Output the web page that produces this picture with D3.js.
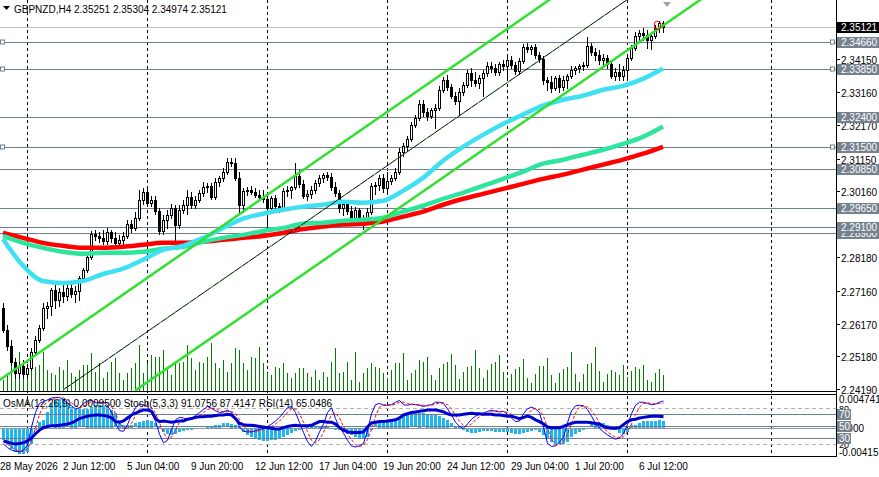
<!DOCTYPE html>
<html>
<head>
<meta charset="utf-8">
<script src="https://cdn.jsdelivr.net/npm/d3@7"></script>
<style>
    body { margin: 0; background: #fff; }
    svg { display: block; }
    text { font-family: "Liberation Sans", Arial, sans-serif; font-size: 10px; fill: #000; }
</style>
</head>
<body>
<svg id="chart" width="879" height="477"></svg>
<script>
// ---- data (bar 0 = 29 May 00:00) ----
let opens = [
    2.2665,2.2598,2.2550,2.2502,2.2469,2.2490,2.2466,2.2484,2.2532,2.2568,
    2.2604,2.2665,2.2671,2.2719,2.2689,2.2713,2.2701,2.2725,2.2707,2.2716,
    2.2755,2.2780,2.2819,2.2888,2.2882,2.2876,2.2867,2.2894,2.2876,2.2861,
    2.2870,2.2882,2.2919,2.2906,2.2937,2.2991,2.3015,2.2982,2.2991,2.2958,
    2.2897,2.2931,2.2946,2.2967,2.2916,2.2961,2.2976,2.3000,2.2976,2.2991,
    2.3012,2.3030,2.3033,2.3000,2.3045,2.3057,2.3076,2.3106,2.3103,2.3057,
    2.2976,2.3018,2.3021,2.3015,2.3006,2.3000,2.2994,2.2967,2.2997,2.2973,
    2.2964,2.3018,2.3021,2.3030,2.3064,2.3039,2.3003,2.3009,2.3021,2.3042,
    2.3057,2.3067,2.3060,2.3030,2.3012,2.2967,2.2979,2.2958,2.2931,2.2961,
    2.2928,2.2937,2.2955,2.3033,2.3036,2.3057,2.3027,2.3048,2.3057,2.3076,
    2.3136,2.3154,2.3175,2.3218,2.3239,2.3281,2.3257,2.3245,2.3263,2.3269,
    2.3323,2.3353,2.3332,2.3305,2.3290,2.3317,2.3338,2.3375,2.3353,2.3344,
    2.3359,2.3375,2.3396,2.3390,2.3378,2.3402,2.3396,2.3414,2.3399,2.3381,
    2.3411,2.3453,2.3447,2.3453,2.3429,2.3417,2.3353,2.3347,2.3329,2.3359,
    2.3332,2.3353,2.3366,2.3384,2.3390,2.3396,2.3399,2.3456,2.3438,2.3429,
    2.3414,2.3420,2.3402,2.3366,2.3378,2.3366,2.3384,2.3420,2.3450,2.3486,
    2.3495,2.3489,2.3474,2.3486,2.3510,2.35251
];
let highs = [
    2.2680,2.2614,2.2568,2.2514,2.2502,2.2508,2.2496,2.2544,2.2580,2.2614,
    2.2680,2.2683,2.2725,2.2734,2.2725,2.2734,2.2740,2.2737,2.2731,2.2762,
    2.2786,2.2825,2.2897,2.2900,2.2894,2.2900,2.2906,2.2900,2.2894,2.2885,
    2.2894,2.2931,2.2931,2.2955,2.3021,2.3027,2.3030,2.3003,2.3003,2.2967,
    2.2946,2.2961,2.2979,2.2976,2.2976,2.2991,2.3021,2.3015,2.3003,2.3021,
    2.3045,2.3042,2.3042,2.3057,2.3064,2.3088,2.3118,2.3118,2.3118,2.3076,
    2.3027,2.3030,2.3033,2.3027,2.3021,2.3021,2.3003,2.3003,2.3006,2.2982,
    2.3027,2.3033,2.3033,2.3103,2.3082,2.3051,2.3021,2.3033,2.3051,2.3067,
    2.3072,2.3076,2.3072,2.3045,2.3021,2.2991,2.2991,2.2973,2.2970,2.2967,
    2.2946,2.2967,2.3042,2.3045,2.3067,2.3070,2.3076,2.3067,2.3088,2.3148,
    2.3163,2.3184,2.3227,2.3248,2.3293,2.3293,2.3269,2.3269,2.3281,2.3335,
    2.3363,2.3369,2.3341,2.3317,2.3329,2.3347,2.3384,2.3390,2.3378,2.3369,
    2.3384,2.3408,2.3408,2.3402,2.3408,2.3414,2.3426,2.3426,2.3408,2.3420,
    2.3462,2.3465,2.3459,2.3462,2.3438,2.3426,2.3363,2.3366,2.3366,2.3369,
    2.3366,2.3372,2.3396,2.3396,2.3402,2.3408,2.3483,2.3465,2.3450,2.3444,
    2.3432,2.3429,2.3414,2.3390,2.3402,2.3396,2.3426,2.3459,2.3498,2.3504,
    2.3510,2.3504,2.3495,2.3520,2.3532,2.35304
];
let lows = [
    2.2592,2.2538,2.2493,2.2453,2.2453,2.2453,2.2453,2.2478,2.2523,2.2562,
    2.2598,2.2635,2.2644,2.2665,2.2671,2.2683,2.2689,2.2698,2.2683,2.2689,
    2.2746,2.2774,2.2813,2.2870,2.2864,2.2858,2.2858,2.2864,2.2852,2.2852,
    2.2855,2.2876,2.2894,2.2900,2.2931,2.2979,2.2973,2.2973,2.2949,2.2888,
    2.2888,2.2906,2.2937,2.2861,2.2906,2.2952,2.2949,2.2967,2.2967,2.2985,
    2.3003,2.3015,2.2994,2.2994,2.3033,2.3048,2.3070,2.3094,2.3051,2.2955,
    2.2955,2.3006,2.3009,2.3000,2.2991,2.2985,2.2900,2.2961,2.2955,2.2955,
    2.2958,2.3003,2.2997,2.3024,2.3030,2.2997,2.2991,2.2997,2.3012,2.3033,
    2.3045,2.3051,2.3021,2.3003,2.2955,2.2946,2.2949,2.2922,2.2919,2.2919,
    2.2903,2.2925,2.2949,2.3009,2.3021,2.3015,2.3015,2.3039,2.3051,2.3070,
    2.3124,2.3142,2.3169,2.3212,2.3233,2.3245,2.3233,2.3239,2.3208,2.3263,
    2.3317,2.3323,2.3299,2.3281,2.3248,2.3308,2.3332,2.3335,2.3335,2.3329,
    2.3305,2.3366,2.3378,2.3369,2.3369,2.3384,2.3359,2.3390,2.3372,2.3372,
    2.3405,2.3438,2.3432,2.3420,2.3408,2.3341,2.3323,2.3317,2.3323,2.3317,
    2.3323,2.3329,2.3359,2.3372,2.3378,2.3384,2.3393,2.3429,2.3414,2.3402,
    2.3396,2.3390,2.3359,2.3353,2.3353,2.3353,2.3353,2.3414,2.3444,2.3468,
    2.3474,2.3450,2.3447,2.3480,2.3498,2.34974
];
let closes = [
    2.2598,2.2550,2.2502,2.2469,2.2490,2.2466,2.2484,2.2532,2.2568,2.2604,
    2.2665,2.2671,2.2719,2.2689,2.2713,2.2701,2.2725,2.2707,2.2716,2.2755,
    2.2780,2.2819,2.2888,2.2882,2.2876,2.2867,2.2894,2.2876,2.2861,2.2870,
    2.2882,2.2919,2.2906,2.2937,2.2991,2.3015,2.2982,2.2991,2.2958,2.2897,
    2.2931,2.2946,2.2967,2.2916,2.2961,2.2976,2.3000,2.2976,2.2991,2.3012,
    2.3030,2.3033,2.3000,2.3045,2.3057,2.3076,2.3106,2.3103,2.3057,2.2976,
    2.3018,2.3021,2.3015,2.3006,2.3000,2.2994,2.2967,2.2997,2.2973,2.2964,
    2.3018,2.3021,2.3030,2.3064,2.3039,2.3003,2.3009,2.3021,2.3042,2.3057,
    2.3067,2.3060,2.3030,2.3012,2.2967,2.2979,2.2958,2.2931,2.2961,2.2928,
    2.2937,2.2955,2.3033,2.3036,2.3057,2.3027,2.3048,2.3057,2.3076,2.3136,
    2.3154,2.3175,2.3218,2.3239,2.3281,2.3257,2.3245,2.3263,2.3269,2.3323,
    2.3353,2.3332,2.3305,2.3290,2.3317,2.3338,2.3375,2.3353,2.3344,2.3359,
    2.3375,2.3396,2.3390,2.3378,2.3402,2.3396,2.3414,2.3399,2.3381,2.3411,
    2.3453,2.3447,2.3453,2.3429,2.3417,2.3353,2.3347,2.3329,2.3359,2.3332,
    2.3353,2.3366,2.3384,2.3390,2.3396,2.3399,2.3456,2.3438,2.3429,2.3414,
    2.3420,2.3402,2.3366,2.3378,2.3366,2.3384,2.3420,2.3450,2.3486,2.3495,
    2.3489,2.3474,2.3486,2.3510,2.3525,2.35121
];
let volumes = [
    1200,1870,2870,3030,4030,2530,2030,3030,2530,2700,
    4030,2200,1870,1700,2530,2200,3200,1870,1530,2200,
    2700,2700,3870,2030,2870,1370,2030,3030,3370,1870,
    1200,1870,2370,2870,4700,1870,2870,3700,3530,3530,
    4200,2200,1700,2870,2870,3030,4700,3370,2200,3030,
    2870,3530,4870,2870,2370,3200,2030,2870,4370,4200,
    2870,2200,3530,3370,4530,2870,1870,1700,2530,2370,
    2870,1870,1370,1870,2370,2370,1870,1530,2200,1200,
    2030,1530,3030,4370,1870,2030,3030,1200,4030,1030,
    1870,2370,2870,2530,2370,1870,1370,2200,2870,2870,
    3870,1200,1870,2200,3200,3030,3530,1700,1200,2370,
    2800,3000,3800,2700,1270,1970,2500,2600,4200,2370,
    1370,2200,2800,3000,3700,1970,1270,1800,2270,2470,
    3300,1370,870,1800,2600,2600,3370,1700,870,1870,
    2270,2500,4000,1800,970,1770,2800,2900,4500,2070,
    970,1800,2170,1970,1700,2700,1470,2070,2500,2300,
    2700,1170,970,1870,2270,1700
];

// moving averages, read every 5 bars
let maIdx = [0,5,10,15,20,25,30,35,40,45,50,55,60,65,70,75,80,85,90,95,100,105,110,115,120,125,130,135,140,145,150,155,160,165];
let maFast = [2.2873,2.2792,2.2746,2.2740,2.2746,2.2767,2.2783,2.2810,2.2840,2.2852,2.2876,2.2906,2.2934,2.2949,2.2961,2.2970,2.2976,
    2.2985,2.2982,2.2988,2.3018,2.3057,2.3109,2.3151,2.3187,2.3220,2.3248,2.3275,2.3293,2.3305,2.3323,2.3335,2.3356,2.3387];
let maMid = [2.2882,2.2861,2.2846,2.2834,2.2828,2.2831,2.2831,2.2834,2.2843,2.2849,2.2864,2.2876,2.2885,2.2897,2.2906,2.2919,2.2922,
    2.2928,2.2931,2.2937,2.2955,2.2973,2.2994,2.3012,2.3033,2.3054,2.3076,2.3100,2.3112,2.3127,2.3142,2.3160,2.3181,2.3212];
let maSlow = [2.2891,2.2876,2.2861,2.2852,2.2846,2.2846,2.2849,2.2855,2.2861,2.2861,2.2864,2.2870,2.2876,2.2882,2.2891,2.2903,2.2910,
    2.2916,2.2919,2.2925,2.2940,2.2955,2.2976,2.2994,2.3009,2.3024,2.3039,2.3054,2.3067,2.3082,2.3097,2.3112,2.3130,2.3151];

// trend channel: [bar, price] anchor pairs
let channelUpper = [[-1, 2.2446], [140, 2.3623]];
let channelMiddle = [[15, 2.2417], [160, 2.3628]];
let channelLower = [[33, 2.2415], [180, 2.3642]];

// OsMA histogram (x 1e-4)
let osma = [
    -18.1,-25.5,-30.4,-35.3,-37.7,-37.7,-35.3,-23.0,-3.4,8.8,
    12.2,23.5,35.8,40.7,43.1,43.1,35.8,30.9,28.4,27.0,
    27.0,28.4,30.9,33.3,33.3,31.9,30.9,26.0,21.1,8.8,
    3.9,3.9,3.9,6.4,8.8,10.3,11.3,10.3,6.4,1.5,
    -5.9,-8.3,-10.8,-8.3,-5.9,-4.4,-3.4,-2.5,-2.0,-1.5,
    -1.0,1.5,2.5,3.9,4.9,6.4,6.4,5.4,3.9,1.5,
    -5.9,-10.8,-13.2,-15.7,-18.1,-19.1,-19.1,-18.1,-17.2,-15.7,
    -13.2,-10.8,-7.4,-4.4,-2.5,-1.0,0.5,1.5,2.5,2.5,
    1.5,0.5,-1.0,-2.5,-3.4,-5.9,-8.3,-10.8,-13.2,-14.2,
    -15.7,-13.2,-3.4,6.4,8.8,11.3,12.2,13.7,13.7,16.2,
    18.6,20.1,21.1,21.1,22.1,21.1,20.1,18.6,18.6,17.2,
    15.2,11.3,6.4,1.5,0.5,-2.5,-5.9,-7.4,-7.4,-5.9,
    -4.9,-4.4,-4.4,-5.9,-5.9,-5.9,-5.9,-7.4,-9.3,-9.3,
    -7.4,-5.9,-4.4,-3.4,-5.9,-10.8,-15.7,-20.6,-23.0,-24.0,
    -23.0,-20.6,-13.2,-8.3,-5.9,-3.4,-1.0,6.4,7.4,7.4,
    6.4,3.9,0.5,-3.4,-7.4,-8.3,-5.9,3.9,3.9,7.4,
    9.8,9.8,9.8,9.8,11.3,10.3
];
let rsi = [
    25,23,21,20,21,22,25,30,37,43, 47,49,50,50,51,52,53,55,58,62,
    64,66,67,68,68,67,66,63,57,56, 58,63,68,71,74,76,76,74,62,57,
    58,57,56,57,58,58,61,62,64,65, 65,66,66,67,68,68,69,68,62,54,
    52,51,51,50,49,48,47,46,45,45, 47,49,50,51,50,50,50,51,54,57,
    57,56,56,53,47,43,40,39,39,39, 40,48,55,56,57,57,58,59,60,63,
    68,70,72,73,74,75,76,76,76,75, 73,70,68,68,68,69,70,71,70,70,
    69,69,69,68,68,67,66,66,64,62, 64,66,64,60,57,53,48,47,47,47,
    49,52,54,56,56,56,56,55,54,53, 49,47,46,46,47,52,57,60,61,63,
    64,65,66,66,66,65.0486
];
let stochMain = [
    20,14,10,8,7,10,18,48,72,87, 90,93,96,97,97,93,88,83,78,80,
    87,91,92,88,88,90,83,73,54,42, 41,52,68,80,86,85,82,72,58,36,
    22,26,44,60,64,63,60,63,67,72, 77,82,79,75,72,73,76,72,62,48,
    41,40,40,42,44,46,49,53,58,64, 72,80,82,72,56,39,24,16,25,40,
    53,72,80,62,47,38,26,17,15,17, 21,42,70,85,87,84,84,85,89,92,
    85,84,86,85,84,82,84,85,89,89, 87,78,68,56,49,46,53,61,66,69,
    71,74,76,74,73,74,69,63,57,58, 70,78,81,78,72,48,21,16,17,23,
    31,55,75,83,84,83,77,66,54,46, 40,35,31,28,30,37,52,70,84,89,
    89,87,85,86,89,91.0756
];
let stochSignal = [
    25,20,15,11,8,8,12,25,46,69, 83,90,93,95,97,96,93,88,83,80,
    82,86,90,90,89,89,87,82,70,56, 46,45,54,67,78,84,84,80,71,55,
    39,28,31,43,56,62,62,62,63,67, 72,77,79,79,75,73,74,74,70,61,
    50,43,40,41,42,44,46,49,53,58, 65,72,78,78,70,56,40,26,22,27,
    39,55,68,71,63,49,37,27,19,16, 18,27,44,66,81,85,85,84,86,89,
    89,87,85,85,85,84,83,84,86,88, 88,85,78,67,58,50,49,53,60,65,
    69,71,74,75,74,74,72,69,63,59, 62,69,76,79,77,66,47,28,18,19,
    24,36,54,71,81,83,81,75,66,55, 47,40,35,31,30,32,40,53,69,81,
    87,88,87,86,87,87.4147
];

// horizontal levels and axis labels
let levels = [2.2890, 2.2910, 2.2965, 2.3085, 2.3150, 2.3240, 2.3385, 2.3466];
let levelMarked = [false, false, false, false, true, false, true, true];
let bidPrice = 2.35121;
let priceTicks = [2.3415, 2.3316, 2.3217, 2.3115, 2.3016, 2.2915, 2.2818, 2.2716, 2.2617, 2.2518, 2.2419];
let separatorBars = [6, 36, 66, 96, 126, 156, 192];
let timeLabelBars = [15, 31, 47, 63, 79, 95, 111, 127, 143, 159];
let timeLabels = ['2 Jun 12:00', '5 Jun 04:00', '9 Jun 20:00', '12 Jun 12:00', '17 Jun 04:00',
    '19 Jun 20:00', '24 Jun 12:00', '29 Jun 04:00', '1 Jul 20:00', '6 Jul 12:00'];
let oscLevels = [70, 50, 30];

// ---- layout ----
let axisX = 836;
let mainBottom = 391.5;
let indTop = 394.5, indBottom = 456.5;

let svg = d3.select('#chart');

let x = d3.scaleLinear().domain([0, 165]).range([3, 663]);
let y = d3.scaleLinear().domain([2.2419, 2.3415]).range([389.3, 59.3]);
let yVol = d3.scaleLinear().domain([0, 6200]).range([392, 330]);
let yOsc = d3.scaleLinear().domain([0, 100]).range([456.1, 395.6]);
let yOsma = d3.scaleLinear().domain([-41.57, 47.41]).range([456.1, 395.6]);
let px = i => Math.round(x(i));

let defs = svg.append('defs');
defs.append('clipPath').attr('id', 'clipMain')
    .append('rect').attr('x', 0).attr('y', 0).attr('width', axisX).attr('height', mainBottom);
defs.append('clipPath').attr('id', 'clipInd')
    .append('rect').attr('x', 0).attr('y', indTop + 0.5).attr('width', axisX).attr('height', indBottom - indTop - 1);

svg.append('rect').attr('width', 879).attr('height', 477).attr('fill', '#fff');

// period separators
svg.append('g').selectAll('line').data(separatorBars).enter().append('line')
    .attr('x1', d => px(d) + 0.5).attr('x2', d => px(d) + 0.5)
    .attr('y1', 0).attr('y2', indBottom)
    .attr('stroke', '#000').attr('stroke-dasharray', '3,3');

let main = svg.append('g').attr('clip-path', 'url(#clipMain)');

// level lines
main.append('line')
    .attr('x1', 0).attr('x2', axisX).attr('y1', Math.round(y(bidPrice)) + 0.5).attr('y2', Math.round(y(bidPrice)) + 0.5)
    .attr('stroke', '#c0c0c0');
levels.forEach(function (lv, k) {
    let ly = Math.round(y(lv)) + 0.5;
    main.append('line').attr('x1', 0).attr('x2', axisX).attr('y1', ly).attr('y2', ly)
        .attr('stroke', '#6f7f8f');
    if (levelMarked[k]) {
        [0.5, axisX - 5.5].forEach(function (sx) {
            main.append('rect').attr('x', sx).attr('y', ly - 2.5).attr('width', 4).attr('height', 4)
                .attr('fill', '#fff').attr('stroke', '#6f7f8f');
        });
    }
});

// volumes
main.append('g').selectAll('rect').data(volumes).enter().append('rect')
    .attr('x', (d, i) => px(i)).attr('width', 1)
    .attr('y', d => yVol(d)).attr('height', d => 392 - yVol(d))
    .attr('fill', '#007f00').attr('shape-rendering', 'crispEdges');

// candles
let candles = main.append('g').attr('shape-rendering', 'crispEdges');
closes.forEach(function (c, i) {
    let o = opens[i];
    let cx = px(i);
    let top = Math.round(y(Math.max(o, c)));
    let bot = Math.round(y(Math.min(o, c)));
    let h = Math.max(1, bot - top);
    candles.append('rect').attr('x', cx).attr('width', 1)
        .attr('y', Math.round(y(highs[i]))).attr('height', Math.round(y(lows[i])) - Math.round(y(highs[i])) + 1)
        .attr('fill', '#000');
    candles.append('rect').attr('x', cx - 1).attr('width', 3).attr('y', top).attr('height', h + 1).attr('fill', '#000');
    if (c > o && h > 1) {
        candles.append('rect').attr('x', cx).attr('width', 1).attr('y', top + 1).attr('height', h - 1).attr('fill', '#fff');
    }
});

// moving averages
let maLine = d3.line().x((d, k) => x(maIdx[k])).y(d => y(d)).curve(d3.curveMonotoneX);
[[maSlow, '#ff0000'], [maMid, '#2ee59d'], [maFast, '#3fe0f2']].forEach(function (m) {
    main.append('path').attr('d', maLine(m[0])).attr('fill', 'none')
        .attr('stroke', m[1]).attr('stroke-width', 4.5);
});

// trend channel
let chLine = d3.line().x(d => x(d[0])).y(d => y(d[1]));
let extend = function (pts) {
    // stretch the ray to the right so it runs off the panel
    let slope = (pts[1][1] - pts[0][1]) / (pts[1][0] - pts[0][0]);
    return [pts[0], [pts[0][0] + 300, pts[0][1] + slope * 300]];
};
main.append('path').attr('d', chLine(extend(channelUpper))).attr('stroke', '#2fe02f').attr('stroke-width', 2.5).attr('fill', 'none');
main.append('path').attr('d', chLine(extend(channelLower))).attr('stroke', '#2fe02f').attr('stroke-width', 2.5).attr('fill', 'none');
main.append('path').attr('d', chLine(extend(channelMiddle))).attr('stroke', '#000').attr('stroke-width', 1).attr('fill', 'none');
main.append('path').attr('d', chLine(extend(channelMiddle))).attr('stroke', '#2fe02f').attr('stroke-width', 1)
    .attr('stroke-dasharray', '2,7').attr('fill', 'none');

// marker round the last bars
main.append('rect').attr('x', px(163) - 0.5).attr('y', Math.round(y(2.3532)) + 0.5)
    .attr('width', 6).attr('height', 8).attr('rx', 2)
    .attr('fill', 'none').attr('stroke', '#ff0000');

// chart shift marker
svg.append('path').attr('d', `M${px(166) - 4},2 L${px(166) + 4},2 L${px(166)},7 Z`).attr('fill', '#a0a0a0');

// ---- indicator panel ----
let ind = svg.append('g').attr('clip-path', 'url(#clipInd)');

ind.append('g').selectAll('rect').data(osma).enter().append('rect')
    .attr('x', (d, i) => px(i) - 1).attr('width', 3)
    .attr('y', d => Math.round(Math.min(yOsma(d), yOsma(0))))
    .attr('height', d => Math.max(1, Math.round(Math.abs(yOsma(d) - yOsma(0)))))
    .attr('fill', '#1fb6ef').attr('shape-rendering', 'crispEdges');

[80, 20].forEach(function (lv) {
    ind.append('line').attr('x1', 0).attr('x2', axisX)
        .attr('y1', Math.round(yOsc(lv)) + 0.5).attr('y2', Math.round(yOsc(lv)) + 0.5)
        .attr('stroke', '#b4b4b4').attr('stroke-dasharray', '4,3');
});
oscLevels.forEach(function (lv) {
    ind.append('line').attr('x1', 0).attr('x2', axisX)
        .attr('y1', Math.round(yOsc(lv)) + 0.5).attr('y2', Math.round(yOsc(lv)) + 0.5)
        .attr('stroke', '#6f7f8f');
});
ind.append('line').attr('x1', 0).attr('x2', axisX)
    .attr('y1', Math.round(yOsma(0)) + 0.5).attr('y2', Math.round(yOsma(0)) + 0.5)
    .attr('stroke', '#8a96a2');

let oscLine = d3.line().x((d, i) => x(i) + 0.5).y(d => yOsc(d));
ind.append('path').attr('d', oscLine(stochMain)).attr('fill', 'none').attr('stroke', '#0000ff').attr('stroke-width', 1);
ind.append('path').attr('d', oscLine(stochSignal)).attr('fill', 'none').attr('stroke', '#ff0000')
    .attr('stroke-width', 1).attr('stroke-dasharray', '3,2');
ind.append('path').attr('d', oscLine(rsi)).attr('fill', 'none').attr('stroke', '#0000cd').attr('stroke-width', 3);

// ---- frames ----
let frame = svg.append('g').attr('stroke', '#000').attr('shape-rendering', 'crispEdges');
frame.append('line').attr('x1', 0).attr('x2', axisX).attr('y1', mainBottom).attr('y2', mainBottom);
frame.append('line').attr('x1', 0).attr('x2', axisX).attr('y1', indTop).attr('y2', indTop);
frame.append('line').attr('x1', 0).attr('x2', axisX).attr('y1', indBottom).attr('y2', indBottom);
frame.append('line').attr('x1', axisX + 0.5).attr('x2', axisX + 0.5).attr('y1', 0).attr('y2', indBottom);

// ---- right price axis ----
let axisG = svg.append('g');
priceTicks.forEach(function (p) {
    let ty = Math.round(y(p)) + 0.5;
    axisG.append('line').attr('x1', axisX).attr('x2', axisX + 4).attr('y1', ty).attr('y2', ty).attr('stroke', '#000');
    axisG.append('text').attr('x', 841).attr('y', ty + 4).text(p.toFixed(5));
});

function priceBox(p, fill) {
    let by = Math.round(y(p));
    axisG.append('rect').attr('x', 837).attr('y', by - 5).attr('width', 42).attr('height', 11).attr('fill', fill);
    axisG.append('text').attr('x', 841).attr('y', by + 4).style('fill', '#fff').text(p.toFixed(5));
}
levels.forEach(lv => priceBox(lv, '#76838f'));
priceBox(bidPrice, '#000');

// indicator axis labels
axisG.append('text').attr('x', 839).attr('y', 403).text('0.004741');
axisG.append('text').attr('x', 839).attr('y', 456).text('-0.004157');
axisG.append('text').attr('x', 839).attr('y', Math.round(yOsma(0)) + 4).text('0.000');
[80, 20].forEach(function (lv) {
    axisG.append('text').attr('x', 839).attr('y', Math.round(yOsc(lv)) + 4).style('font-size', '9px').text(lv);
});
oscLevels.forEach(function (lv) {
    let by = Math.round(yOsc(lv));
    axisG.append('rect').attr('x', 837).attr('y', by - 5).attr('width', 14).attr('height', 11).attr('fill', '#76838f');
    axisG.append('text').attr('x', 839).attr('y', by + 4).style('fill', '#fff').text(lv);
});

// ---- time axis ----
let timeG = svg.append('g');
timeG.append('text').attr('x', 0).attr('y', 470).text('28 May 2026');
timeLabelBars.forEach(function (b, k) {
    timeG.append('text').attr('x', px(b)).attr('y', 470).text(timeLabels[k]);
});

// ---- titles ----
svg.append('path').attr('d', 'M3,6 L10,6 L6.5,10 Z').attr('fill', '#000');
svg.append('text').attr('x', 14).attr('y', 12.5)
    .text('GBPNZD,H4  2.35251 2.35304 2.34974 2.35121');
svg.append('text').attr('x', 3).attr('y', 406.5)
    .text('OsMA(12,26,9) 0.0009500  Stoch(5,3,3) 91.0756 87.4147  RSI(14) 65.0486');
</script>
</body>
</html>
